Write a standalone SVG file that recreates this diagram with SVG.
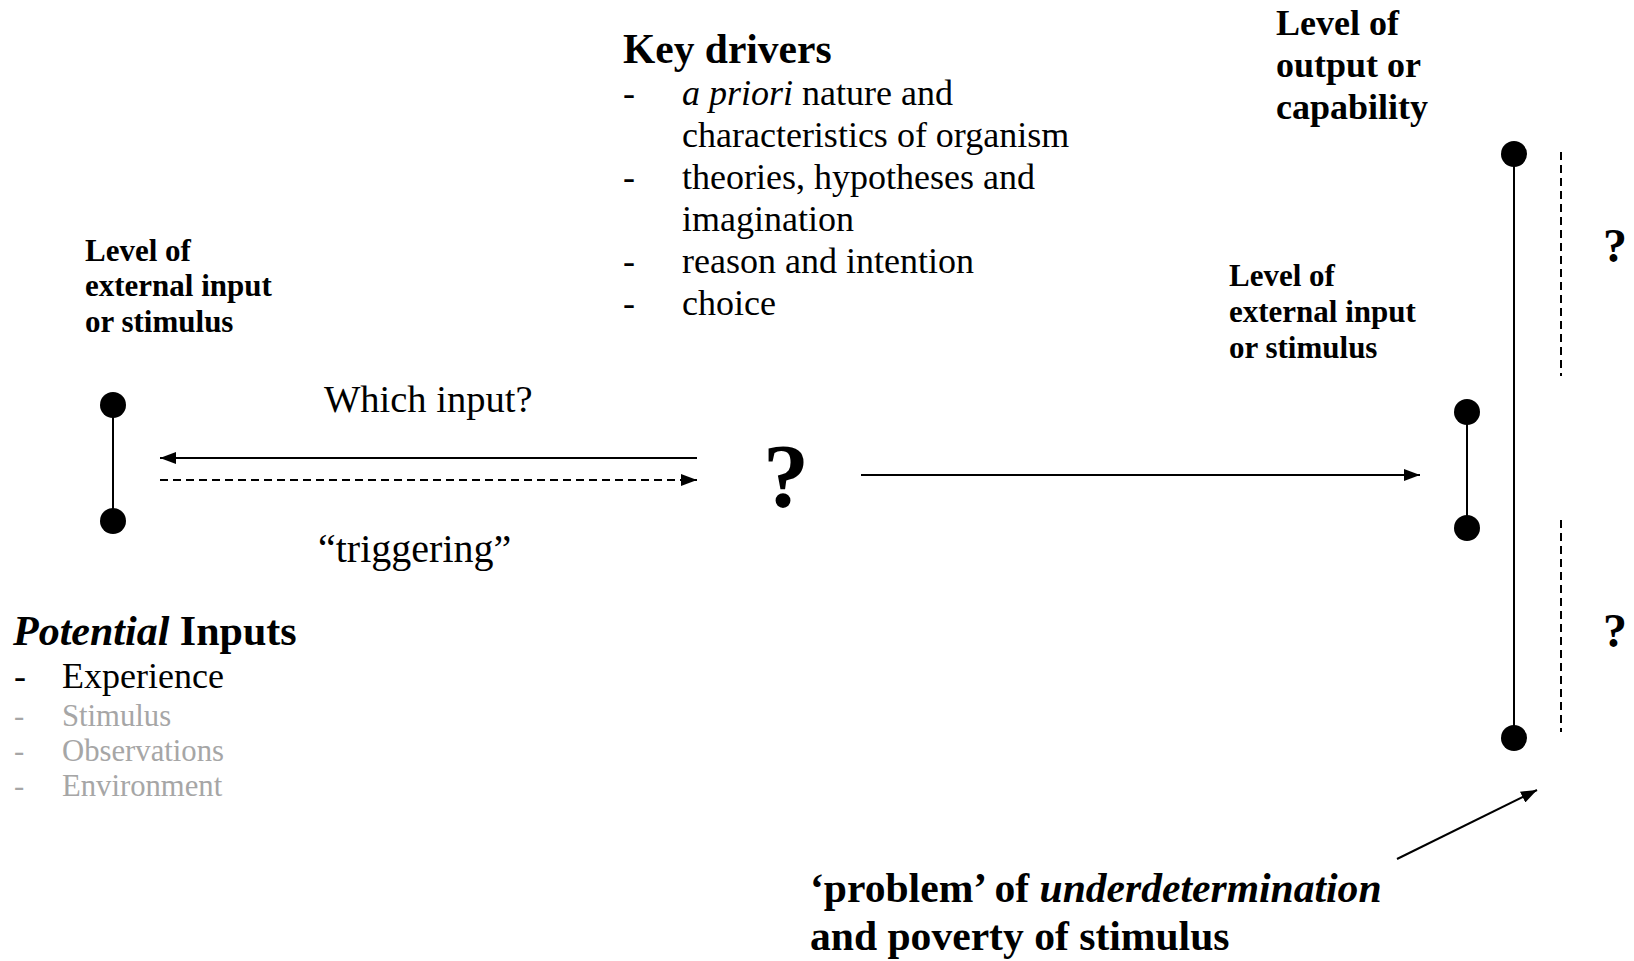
<svg xmlns="http://www.w3.org/2000/svg" width="1634" height="961" viewBox="0 0 1634 961">
<defs>
<style>
text{font-family:"Liberation Serif","Times New Roman",serif;fill:#000}
.b{font-weight:bold}
.i{font-style:italic}
.gray{fill:#a6a6a6}
.ln{stroke:#000;stroke-width:2;fill:none}
.dash{stroke:#000;stroke-width:2;fill:none;stroke-dasharray:8 5}
.dot{fill:#000}
</style>
<marker id="ah" markerWidth="16" markerHeight="12" refX="16" refY="6" orient="auto" markerUnits="userSpaceOnUse">
<path d="M0,0 L16,6 L0,12 z" fill="#000"/>
</marker>
</defs>
<rect width="1634" height="961" fill="#fff"/>

<g id="connectors">
<line class="ln" x1="697" y1="458" x2="160" y2="458" marker-end="url(#ah)"/>
<line class="dash" x1="160" y1="480" x2="697" y2="480" marker-end="url(#ah)"/>
<line class="ln" x1="861" y1="475" x2="1420" y2="475" marker-end="url(#ah)"/>
<line class="ln" x1="1397" y1="859" x2="1537" y2="790" marker-end="url(#ah)"/>
<line class="dash" x1="1561" y1="152" x2="1561" y2="376"/>
<line class="dash" x1="1561" y1="520" x2="1561" y2="732"/>
</g>

<g id="node-left-input">
<line class="ln" x1="113" y1="405" x2="113" y2="521"/>
<circle class="dot" cx="113" cy="405" r="13"/>
<circle class="dot" cx="113" cy="521" r="13"/>
<text class="b" font-size="31" x="85" y="261">Level of</text>
<text class="b" font-size="31" x="85" y="296">external input</text>
<text class="b" font-size="31" x="85" y="332">or stimulus</text>
</g>

<g id="label-which-input">
<text font-size="38.5" x="324" y="412">Which input?</text>
</g>
<g id="label-triggering">
<text font-size="40" x="318" y="562">“triggering”</text>
</g>

<g id="node-center">
<text class="b" font-size="92" x="786" y="507" text-anchor="middle">?</text>
</g>

<g id="key-drivers">
<text class="b" font-size="41.5" x="623" y="63">Key drivers</text>
<text font-size="36" x="623" y="105">-</text>
<text font-size="36" x="682" y="105"><tspan class="i">a priori</tspan> nature and</text>
<text font-size="36" x="682" y="147">characteristics of organism</text>
<text font-size="36" x="623" y="189">-</text>
<text font-size="36" x="682" y="189">theories, hypotheses and</text>
<text font-size="36" x="682" y="231">imagination</text>
<text font-size="36" x="623" y="273">-</text>
<text font-size="36" x="682" y="273">reason and intention</text>
<text font-size="36" x="623" y="315">-</text>
<text font-size="36" x="682" y="315">choice</text>
</g>

<g id="potential-inputs">
<text font-size="42" x="13" y="645"><tspan class="b i">Potential</tspan><tspan class="b"> Inputs</tspan></text>
<text font-size="36" x="14" y="688">-</text>
<text font-size="36" x="62" y="688">Experience</text>
<text class="gray" font-size="30.7" x="14" y="726">-</text>
<text class="gray" font-size="30.7" x="62" y="726">Stimulus</text>
<text class="gray" font-size="30.7" x="14" y="761">-</text>
<text class="gray" font-size="30.7" x="62" y="761">Observations</text>
<text class="gray" font-size="30.7" x="14" y="796">-</text>
<text class="gray" font-size="30.7" x="62" y="796">Environment</text>
</g>

<g id="node-right-input">
<line class="ln" x1="1467" y1="412" x2="1467" y2="528"/>
<circle class="dot" cx="1467" cy="412" r="13"/>
<circle class="dot" cx="1467" cy="528" r="13"/>
<text class="b" font-size="31" x="1229" y="286">Level of</text>
<text class="b" font-size="31" x="1229" y="322">external input</text>
<text class="b" font-size="31" x="1229" y="358">or stimulus</text>
</g>

<g id="node-right-output">
<line class="ln" x1="1514" y1="154" x2="1514" y2="738"/>
<circle class="dot" cx="1514" cy="154" r="13"/>
<circle class="dot" cx="1514" cy="738" r="13"/>
<text class="b" font-size="36" x="1276" y="35">Level of</text>
<text class="b" font-size="36" x="1276" y="77">output or</text>
<text class="b" font-size="36" x="1276" y="119">capability</text>
</g>

<g id="question-marks">
<text class="b" font-size="48" x="1615" y="262" text-anchor="middle">?</text>
<text class="b" font-size="48" x="1615" y="647" text-anchor="middle">?</text>
</g>

<g id="label-underdetermination">
<text class="b" font-size="41.6" x="810" y="902">‘problem’ of <tspan class="i">underdetermination</tspan></text>
<text class="b" font-size="41.6" x="810" y="950">and poverty of stimulus</text>
</g>
</svg>
